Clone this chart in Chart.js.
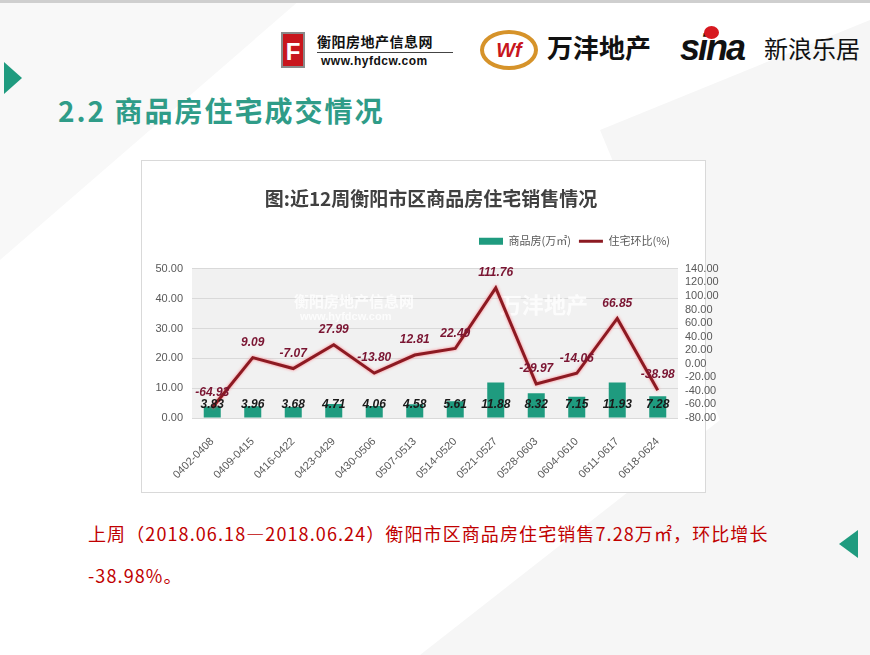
<!DOCTYPE html>
<html lang="zh">
<head>
<meta charset="UTF-8">
<title>近12周衡阳市区商品房住宅销售情况</title>
<script src="https://cdn.jsdelivr.net/npm/chart.js"></script>
<style>
  body { margin: 0; width: 870px; height: 655px; position: relative; overflow: hidden;
         background: #fff; font-family: "Noto Sans CJK SC", sans-serif; }
  .frame { position: absolute; left: 0; top: 0; width: 870px; height: 655px; box-sizing: border-box;
           border-top: 3px solid #cfcfcf; }
  .shade1 { position: absolute; left: 0; top: 0; width: 870px; height: 655px; background: #f6f6f6;
            clip-path: polygon(600px 130px, 870px 20px, 870px 655px, 420px 655px, 720px 420px); }
  .shade2 { position: absolute; left: 0; top: 0; width: 870px; height: 655px; background: #f8f8f8;
            clip-path: polygon(0 0, 300px 0, 0 260px); }
  .tri { position: absolute; width: 0; height: 0; }
  .tri.left { left: 4px; top: 62px; border-top: 16px solid transparent; border-bottom: 16px solid transparent;
              border-left: 18px solid #1f9b7f; }
  .tri.right { left: 839px; top: 530px; border-top: 14px solid transparent; border-bottom: 14px solid transparent;
               border-right: 19px solid #1f9b7f; }
  .heading { position: absolute; left: 58px; top: 90px; font-size: 28px; color: #2f9c88; font-weight: 700;
             letter-spacing: 2px; white-space: nowrap; }
  .logo1 { position: absolute; left: 281px; top: 30px; }
  .logo1 .icon { position: absolute; left: 0; top: 2px; width: 24px; height: 36px; background: #c8161d;
                 border: 2px solid #8a8a8a; color: #fff; font: 700 24px "Liberation Sans", sans-serif;
                 text-align: center; line-height: 36px; box-sizing: border-box; }
  .logo1 .name { position: absolute; left: 36px; top: 2px; font-size: 14px; font-weight: 700; color: #111;
                 white-space: nowrap; letter-spacing: 0.5px; line-height: 18px; }
  .logo1 .bar { position: absolute; left: 36px; top: 22px; width: 136px; height: 1px; background: #444; }
  .logo1 .url { position: absolute; left: 40px; top: 23px; font: 700 12px "Liberation Sans", sans-serif;
                color: #111; white-space: nowrap; letter-spacing: 0.5px; line-height: 16px; }
  .logo2 { position: absolute; left: 480px; top: 30px; }
  .logo2 .ring { position: absolute; left: 0; top: 0; width: 58px; height: 40px; border-radius: 50%;
                 border: 4px solid #d6932a; box-sizing: border-box; background: #fff;
                 color: #c8161d; font: italic 900 20px "Liberation Sans", sans-serif; text-align: center;
                 line-height: 32px; }
  .logo2 .name { position: absolute; left: 67px; top: -3px; font-size: 26px; font-weight: 700; color: #111;
                 white-space: nowrap; line-height: 40px; }
  .logo3 { position: absolute; left: 680px; top: 24px; white-space: nowrap; }
  .logo3 .sina { position: absolute; left: 0; top: 0; font: italic 900 36px "Liberation Sans", sans-serif;
                 color: #111; line-height: 48px; letter-spacing: -2px; }
  .logo3 .eye { position: absolute; left: 24px; top: 2px; width: 15px; height: 13px; border-radius: 50%;
                background: #d71920; }
  .logo3 .name { position: absolute; left: 84px; top: 4px; font-size: 24px; color: #111; line-height: 40px; }
  .card { position: absolute; left: 141px; top: 160px; width: 565px; height: 333px; box-sizing: border-box;
          border: 1px solid #d9d9d9; background: #fff; }
  #chart { position: absolute; left: 141px; top: 160px; }
  .note { position: absolute; left: 88px; top: 512px; font-size: 18px; color: #c00000; white-space: nowrap;
          line-height: 42px; letter-spacing: 1.1px; }
</style>
</head>
<body>
<div class="shade1"></div>
<div class="shade2"></div>
<div class="frame"></div>

<div class="logo1">
  <div class="icon">F</div>
  <div class="name">衡阳房地产信息网</div>
  <div class="bar"></div>
  <div class="url">www.hyfdcw.com</div>
</div>
<div class="logo2">
  <div class="ring">Wf</div>
  <div class="name">万沣地产</div>
</div>
<div class="logo3">
  <div class="sina">sina</div>
  <div class="eye"></div>
  <div class="name">新浪乐居</div>
</div>

<div class="tri left"></div>
<div class="heading">2.2 商品房住宅成交情况</div>

<div class="card"></div>
<canvas id="chart" width="580" height="333"></canvas>

<div class="note">上周（2018.06.18—2018.06.24）衡阳市区商品房住宅销售7.28万㎡，环比增长<br>-38.98%。</div>
<div class="tri right"></div>

<script>
  const chartTitle = '图:近12周衡阳市区商品房住宅销售情况';
  const weeks = ['0402-0408', '0409-0415', '0416-0422', '0423-0429', '0430-0506', '0507-0513',
                 '0514-0520', '0521-0527', '0528-0603', '0604-0610', '0611-0617', '0618-0624'];
  const salesArea = [3.83, 3.96, 3.68, 4.71, 4.06, 4.58, 5.61, 11.88, 8.32, 7.15, 11.93, 7.28];
  const weekOnWeek = [-64.93, 9.09, -7.07, 27.99, -13.80, 12.81, 22.49, 111.76, -29.97, -14.06, 66.85, -38.98];
  const leftAxis = { min: 0, max: 50, step: 10 };
  const rightAxis = { min: -80, max: 140, step: 20 };

  const teal = '#1f9b7f';
  const darkRed = '#8c1a22';
  const axisFont = { family: '"Liberation Sans", Arial, sans-serif', size: 11 };

  // empty gap between legend and plot
  const legendGap = {
    id: 'legendGap',
    beforeInit(chart) {
      Chart.layouts.addBox(chart, {
        position: 'top', weight: 500, fullSize: true, options: {},
        isHorizontal: () => true,
        update(maxWidth) { this.width = maxWidth; this.height = 12; },
        draw() {}
      });
    }
  };

  // gray plot background + faint watermark
  const plotBackground = {
    id: 'plotBackground',
    beforeDraw(chart) {
      const { ctx, chartArea: a } = chart;
      ctx.save();
      ctx.fillStyle = '#f1f1f1';
      ctx.fillRect(a.left, a.top, a.right - a.left, a.bottom - a.top);
      ctx.restore();
    },
    beforeDatasetsDraw(chart) {
      const { ctx, chartArea: a } = chart;
      ctx.save();
      ctx.fillStyle = 'rgba(255,255,255,0.8)';
      ctx.font = 'bold 15px "Noto Sans CJK SC"';
      ctx.textBaseline = 'middle';
      ctx.fillText('衡阳房地产信息网', a.left + 102, a.top + 32);
      ctx.font = 'bold 11px "Liberation Sans"';
      ctx.fillText('www.hyfdcw.com', a.left + 108, a.top + 48);
      ctx.font = 'bold 22px "Noto Sans CJK SC"';
      ctx.fillText('万沣地产', a.left + 308, a.top + 36);
      ctx.restore();
    }
  };

  // red glow under the line
  const lineGlow = {
    id: 'lineGlow',
    beforeDatasetDraw(chart, args) {
      if (args.index !== 1) return;
      const ctx = chart.ctx;
      ctx.save();
      ctx.shadowColor = 'rgba(255,110,120,0.9)';
      ctx.shadowBlur = 3;
    },
    afterDatasetDraw(chart, args) {
      if (args.index !== 1) return;
      chart.ctx.restore();
    }
  };

  const valueLabels = {
    id: 'valueLabels',
    afterDatasetsDraw(chart) {
      const ctx = chart.ctx;
      const zeroY = chart.scales.y.getPixelForValue(0);
      ctx.save();
      ctx.font = 'italic bold 12px "Liberation Sans", Arial, sans-serif';
      ctx.textAlign = 'center';
      ctx.textBaseline = 'middle';
      ctx.fillStyle = '#7a1532';
      chart.getDatasetMeta(1).data.forEach((pt, i) => {
        ctx.fillText(weekOnWeek[i].toFixed(2), pt.x, pt.y - 15);
      });
      ctx.fillStyle = '#1a1a1a';
      chart.getDatasetMeta(0).data.forEach((bar, i) => {
        ctx.fillText(salesArea[i].toFixed(2), bar.x, zeroY - 13);
      });
      ctx.restore();
    }
  };

  const ctx = document.getElementById('chart').getContext('2d');
  new Chart(ctx, {
    data: {
      labels: weeks,
      datasets: [{
        type: 'bar',
        label: '商品房(万㎡)',
        data: salesArea,
        yAxisID: 'y',
        backgroundColor: teal,
        borderWidth: 0,
        categoryPercentage: 1,
        barPercentage: 0.42,
        pointStyle: 'rect',
        order: 1
      }, {
        type: 'line',
        label: '住宅环比(%)',
        data: weekOnWeek,
        yAxisID: 'y1',
        borderColor: darkRed,
        backgroundColor: darkRed,
        borderWidth: 3,
        pointRadius: 0,
        tension: 0,
        pointStyle: 'line',
        order: 0
      }]
    },
    options: {
      responsive: false,
      animation: false,
      layout: { padding: 0 },
      plugins: {
        tooltip: { enabled: false },
        title: {
          display: true,
          text: chartTitle,
          color: '#404040',
          font: { family: '"Noto Sans CJK SC", sans-serif', size: 19, weight: 'bold' },
          padding: { top: 27, bottom: 18 }
        },
        legend: {
          display: true,
          fullSize: false,
          align: 'end',
          labels: {
            usePointStyle: true,
            pointStyleWidth: 24,
            boxHeight: 7,
            padding: 8,
            color: '#595959',
            font: { family: '"Noto Sans CJK SC", sans-serif', size: 11 },
            sort: (a, b) => a.datasetIndex - b.datasetIndex
          }
        }
      },
      scales: {
        x: {
          grid: { display: false },
          border: { display: false },
          ticks: { minRotation: 45, maxRotation: 45, color: '#595959', padding: 9,
                   font: { family: '"Liberation Sans", Arial, sans-serif', size: 11 } },
          afterFit: s => { s.height = 75; }
        },
        y: {
          position: 'left',
          min: leftAxis.min,
          max: leftAxis.max,
          ticks: { stepSize: leftAxis.step, color: '#595959', padding: 9, font: axisFont,
                   callback: v => v.toFixed(2) },
          grid: { color: '#d9d9d9', drawTicks: false },
          border: { display: false },
          afterFit: s => { s.width = 51; }
        },
        y1: {
          position: 'right',
          min: rightAxis.min,
          max: rightAxis.max,
          ticks: { stepSize: rightAxis.step, autoSkip: false, color: '#595959', padding: 7, font: axisFont,
                   callback: v => v.toFixed(2) },
          grid: { display: false, drawTicks: false },
          border: { display: false },
          afterFit: s => { s.width = 43; }
        }
      }
    },
    plugins: [legendGap, plotBackground, lineGlow, valueLabels]
  });
</script>
</body>
</html>
